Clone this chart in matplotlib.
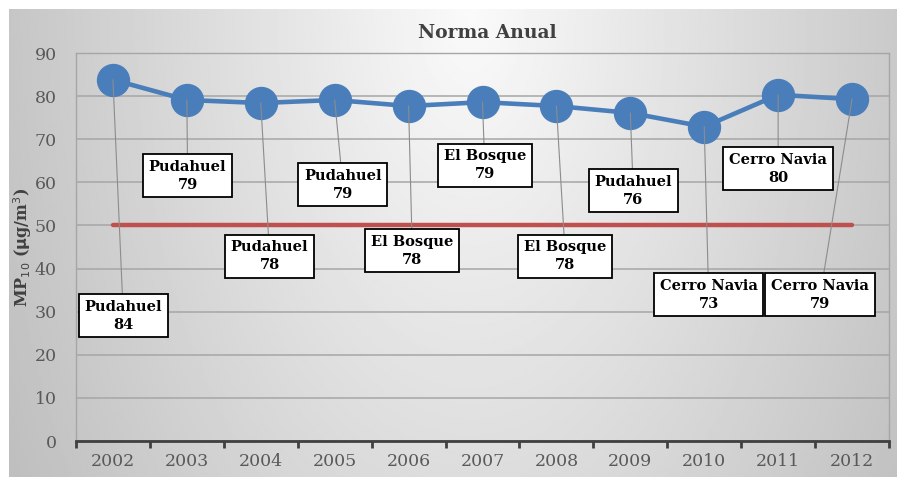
import numpy as np
import matplotlib
matplotlib.use("Agg")
import matplotlib.pyplot as plt

years = ["2002", "2003", "2004", "2005", "2006", "2007", "2008", "2009", "2010", "2011", "2012"]
values = [83.8, 79.1, 78.4, 79.1, 77.7, 78.6, 77.7, 76.1, 72.9, 80.3, 79.3]
stations = ["Pudahuel", "Pudahuel", "Pudahuel", "Pudahuel", "El Bosque", "El Bosque",
            "El Bosque", "Pudahuel", "Cerro Navia", "Cerro Navia", "Cerro Navia"]
norma = 50

# where each callout box sits (data coords)
label_pos = [(0.14, 29.0), (1.01, 61.5), (2.12, 42.9), (3.11, 59.4), (4.05, 44.1),
             (5.03, 64.0), (6.12, 42.9), (7.04, 58.0), (8.06, 33.9), (9.0, 63.1), (9.57, 33.9)]

serif = "DejaVu Serif"
fig = plt.figure(figsize=(8.99, 4.78), dpi=100)

# gradient chart background
bg = fig.add_axes([9/899, 1/478, 888/899, 468/478])
gx, gy = np.meshgrid(np.linspace(0, 1, 400), np.linspace(0, 1, 300))
d = np.sqrt(((gx - 0.52) / 0.5) ** 2 + (gy / 1.7) ** 2)
shade = np.clip(250 - 50 * d, 180, 250) / 255.0
bg.imshow(shade, cmap="gray", vmin=0, vmax=1, aspect="auto", extent=(0, 1, 1, 0))
bg.set_axis_off()
bg.set_zorder(0)

ax = fig.add_axes([76/899, 37/478, 813/899, 388/478])
ax.set_zorder(1)
ax.set_facecolor("none")

x = np.arange(len(years))
ax.plot(x, values, color="#4A7EBB", lw=3.3, marker="o", markersize=23, zorder=3)
ax.plot([x[0], x[-1]], [norma, norma], color="#C0504D", lw=3.2, solid_capstyle="round", zorder=2)

for i, (st, v) in enumerate(zip(stations, values)):
    lx, ly = label_pos[i]
    ax.annotate(f"{st}\n{round(v)}", xy=(x[i], v), xytext=(lx, ly),
                ha="center", va="center", fontsize=10.5, fontweight="bold", family=serif,
                linespacing=1.3,
                bbox=dict(boxstyle="square,pad=0.4", fc="white", ec="black", lw=1.3),
                arrowprops=dict(arrowstyle="-", color="#8C8C8C", lw=0.8, shrinkA=0, shrinkB=0),
                zorder=4)

ax.set_xlim(-0.5, len(years) - 0.5)
ax.set_ylim(0, 90)
ax.set_yticks(range(0, 91, 10))
ax.set_xticks(x)
ax.set_xticklabels(years)
ax.set_xticks(np.arange(-0.5, len(years), 1), minor=True)
ax.tick_params(axis="x", which="major", length=0, pad=9, labelsize=12.5, labelcolor="#595959")
ax.tick_params(axis="x", which="minor", length=5, width=2, color="#404040", direction="out")
ax.tick_params(axis="y", length=0, pad=14, labelsize=12.5, labelcolor="#595959")
for lab in ax.get_xticklabels() + ax.get_yticklabels():
    lab.set_family(serif)

ax.grid(axis="y", color="#A6A6A6", lw=1.1, zorder=0)
ax.set_axisbelow(True)
for s in ["left", "top", "right"]:
    ax.spines[s].set_color("#A6A6A6")
    ax.spines[s].set_linewidth(1.0)
ax.spines["bottom"].set_color("#404040")
ax.spines["bottom"].set_linewidth(2)

ax.set_ylabel(r"MP$_{10}$ ($\mathbf{\mu}$g/m$^{3}$)", fontsize=11.5, fontweight="bold",
              family=serif, color="#404040", labelpad=0)
fig.text(487/899, 1 - 33/478, "Norma Anual", ha="center", va="center", fontsize=13.5,
         fontweight="bold", family=serif, color="#404040")

fig.savefig("out.png", dpi=100)
